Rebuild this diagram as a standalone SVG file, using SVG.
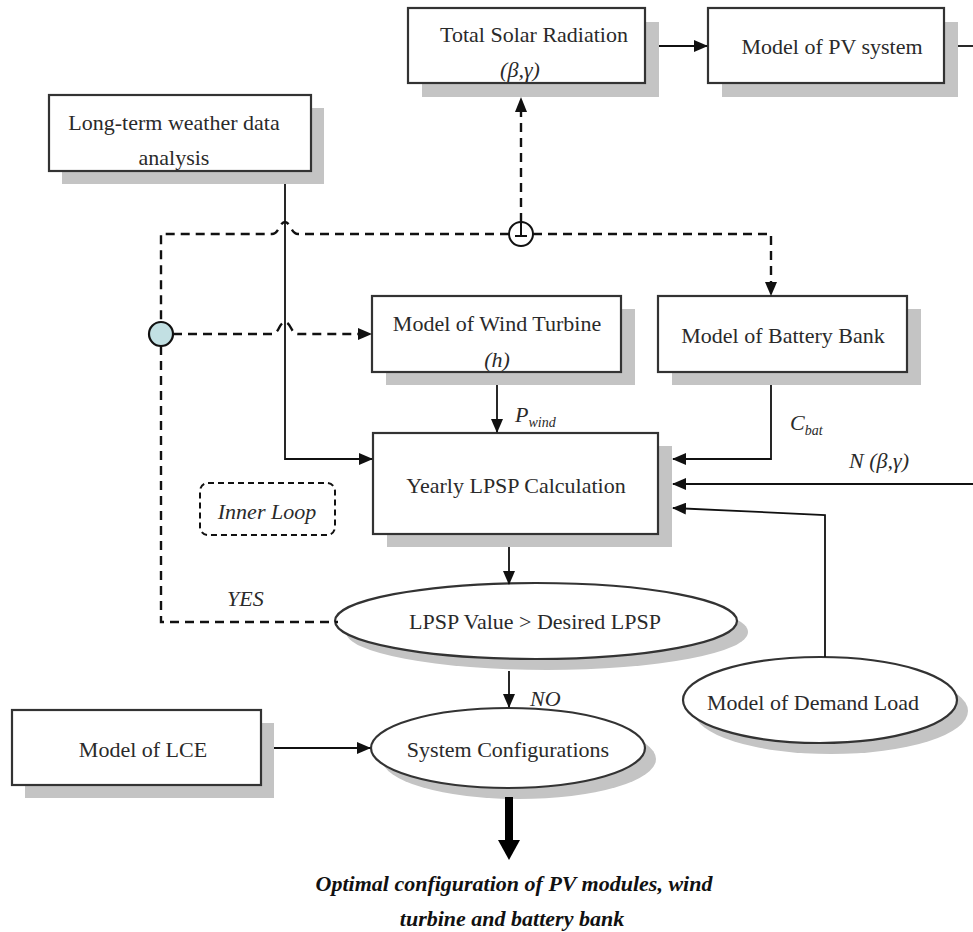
<svg xmlns="http://www.w3.org/2000/svg" width="973" height="932" viewBox="0 0 973 932">
<defs>
<marker id="ah" markerUnits="userSpaceOnUse" markerWidth="14" markerHeight="12" refX="13" refY="6" orient="auto">
<path d="M0,0 L14,6 L0,12 Z" fill="#111"/>
</marker>
</defs>
<style>
text{font-family:"Liberation Serif","Times New Roman",serif}
.box{fill:#fff;stroke:#333;stroke-width:2.2}
.sh{fill:#c4c4c4}
.t{font-size:22px;fill:#2a2a2a;text-anchor:middle}
.it{font-size:22px;font-style:italic;fill:#2a2a2a}
.ln{fill:none;stroke:#111;stroke-width:1.8}
.dl{fill:none;stroke:#111;stroke-width:2.4;stroke-dasharray:9,6}
.bi{font-size:22px;font-weight:bold;font-style:italic;fill:#111;text-anchor:middle}
</style>
<rect width="973" height="932" fill="#fff"/>

<g id="tsr">
<rect class="sh" x="422" y="22" width="237" height="75"/>
<rect class="box" x="408" y="8" width="237" height="75"/>
<text class="t" x="534" y="42">Total Solar Radiation</text>
<text class="it" x="520" y="77" text-anchor="middle">(β,γ)</text>
</g>

<g id="pv">
<rect class="sh" x="722" y="22" width="236" height="75"/>
<rect class="box" x="708" y="8" width="236" height="75"/>
<text class="t" x="832" y="54">Model of PV system</text>
</g>

<g id="weather">
<rect class="sh" x="62" y="108" width="262" height="76"/>
<rect class="box" x="49" y="95" width="262" height="76"/>
<text class="t" x="174" y="130">Long-term weather data</text>
<text class="t" x="174" y="165">analysis</text>
</g>

<g id="wind">
<rect class="sh" x="386" y="309" width="249" height="76"/>
<rect class="box" x="372" y="296" width="249" height="76"/>
<text class="t" x="497" y="331">Model of Wind Turbine</text>
<text class="it" x="497" y="367" text-anchor="middle">(h)</text>
</g>

<g id="battery">
<rect class="sh" x="672" y="309" width="249" height="76"/>
<rect class="box" x="658" y="296" width="249" height="76"/>
<text class="t" x="783" y="343">Model of Battery Bank</text>
</g>

<g id="yearly">
<rect class="sh" x="387" y="446" width="285" height="101"/>
<rect class="box" x="373" y="433" width="285" height="101"/>
<text class="t" x="516" y="493">Yearly LPSP Calculation</text>
</g>

<g id="innerloop">
<rect x="200" y="483" width="135" height="52" rx="8" fill="none" stroke="#111" stroke-width="2" stroke-dasharray="6,4"/>
<text class="it" x="267" y="519" text-anchor="middle">Inner Loop</text>
</g>

<g id="lpsp">
<ellipse class="sh" cx="547" cy="632" rx="201" ry="38"/>
<ellipse class="box" cx="536" cy="621" rx="201" ry="38"/>
<text class="t" x="535" y="629">LPSP Value &gt; Desired LPSP</text>
</g>

<g id="sysconf">
<ellipse class="sh" cx="519" cy="759" rx="137" ry="40"/>
<ellipse class="box" cx="508" cy="748" rx="137" ry="40"/>
<text class="t" x="508" y="757">System Configurations</text>
</g>

<g id="lce">
<rect class="sh" x="25" y="723" width="249" height="75"/>
<rect class="box" x="12" y="710" width="249" height="75"/>
<text class="t" x="143" y="757">Model of LCE</text>
</g>

<g id="demand">
<ellipse class="sh" cx="831" cy="711" rx="137" ry="43"/>
<ellipse class="box" cx="820" cy="700" rx="137" ry="43"/>
<text class="t" x="813" y="710">Model of Demand Load</text>
</g>

<g id="junction-top">
<circle cx="521" cy="234" r="12" fill="#fff" stroke="#111" stroke-width="2"/>
<path d="M521,222 V236 M515,236 H527" stroke="#111" stroke-width="2" fill="none"/>
</g>

<g id="junction-left">
<circle cx="161" cy="334" r="12" fill="#c2e0e3" stroke="#111" stroke-width="2.2"/>
</g>

<g id="connectors">
<line class="ln" x1="659" y1="46" x2="707" y2="46" marker-end="url(#ah)"/>
<line class="ln" x1="958" y1="46" x2="973" y2="46"/>
<path class="ln" d="M285,184 V459 H372" marker-end="url(#ah)"/>
<line class="ln" x1="497" y1="385" x2="497" y2="432" marker-end="url(#ah)"/>
<path class="ln" d="M771,385 V459 H673" marker-end="url(#ah)"/>
<line class="ln" x1="973" y1="484" x2="673" y2="484" marker-end="url(#ah)"/>
<path class="ln" d="M825,657 V515 L673,508" marker-end="url(#ah)"/>
<line class="ln" x1="509" y1="547" x2="509" y2="584" marker-end="url(#ah)"/>
<line class="ln" x1="509" y1="671" x2="509" y2="707" marker-end="url(#ah)"/>
<line class="ln" x1="274" y1="748" x2="370" y2="748" marker-end="url(#ah)"/>
<line x1="509" y1="797" x2="509" y2="842" stroke="#000" stroke-width="8"/>
<path d="M498,840 L520,840 L509,860 Z" fill="#000"/>
<path class="dl" d="M521,222 V112"/>
<path d="M515,112 L521,97 L527,112 Z" fill="#111"/>
<path class="dl" d="M509,234 H298 Q294,234 291,228 Q288,222 285,222 Q282,222 279,228 Q276,234 272,234 H161 V322"/>
<path class="dl" d="M533,234 H771 V283"/>
<path d="M765,282 L771,296 L777,282 Z" fill="#111"/>
<path class="dl" d="M161,346 V622 H338"/>
<path class="dl" d="M173,334 H272 Q276,334 279,328 Q282,322 285,322 Q288,322 291,328 Q294,334 298,334 H358"/>
<path d="M358,328 L372,334 L358,340 Z" fill="#111"/>
</g>

<g id="labels">
<text class="it" x="515" y="422">P<tspan font-size="14" dy="5">wind</tspan></text>
<text class="it" x="790" y="430">C<tspan font-size="14" dy="5">bat</tspan></text>
<text class="it" x="849" y="468">N (β,γ)</text>
<text class="it" x="227" y="606">YES</text>
<text class="it" x="530" y="706">NO</text>
<text class="bi" x="514" y="891">Optimal configuration of PV modules, wind</text>
<text class="bi" x="512" y="926">turbine and battery bank</text>
</g>
</svg>
